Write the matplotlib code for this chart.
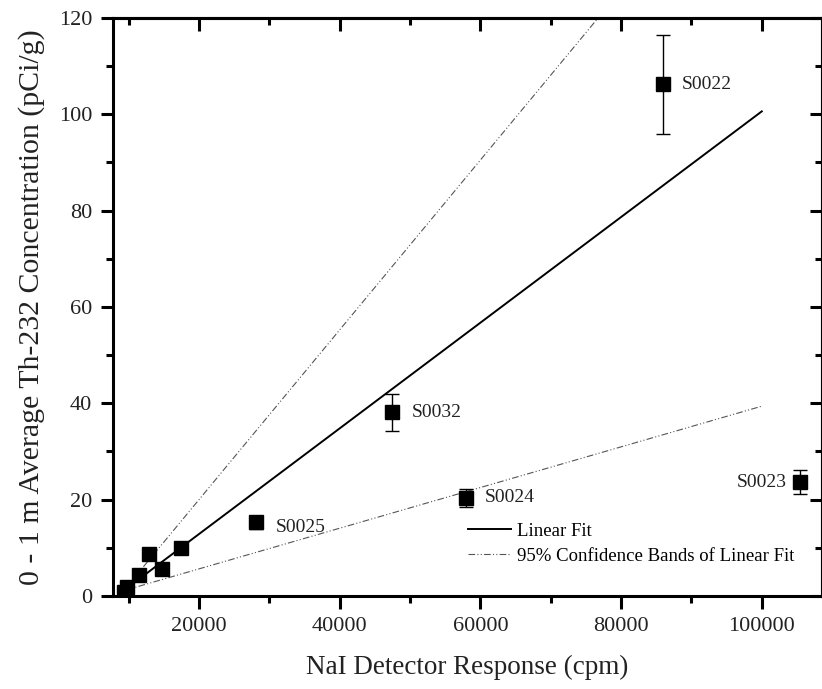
import matplotlib.pyplot as plt
from matplotlib.ticker import MultipleLocator

plt.rcParams['font.family'] = ['Liberation Serif', 'DejaVu Serif']

# measured samples
response = [9350, 9750, 11560, 12850, 14830, 17440, 28150, 47500, 57900, 85900, 105500]
th232 = [0.9, 1.9, 4.4, 8.8, 5.6, 9.9, 15.3, 38.1, 20.4, 106.2, 23.6]
th232_err = [0.3, 0.3, 0.4, 0.5, 0.4, 0.5, 1.3, 3.8, 1.9, 10.2, 2.5]

labels = ['S0025', 'S0032', 'S0024', 'S0022', 'S0023']
label_idx = [6, 7, 8, 9, 10]
label_offset = [(14, -4), (14, 0), (14, 0), (14, 0), (-46, 0)]

# fit lines (end points)
fit_x = [9300, 100000]
fit_y = [1.1, 100.6]
band_x = [9300, 100000]
band_upper = [1.1, 161.0]
band_lower = [1.1, 39.4]

fig = plt.figure(figsize=(8.22, 6.89), dpi=100)
ax = fig.add_axes([0.1375, 0.135, 0.862, 0.839])

ax.plot(fit_x, fit_y, color='black', lw=1.4, label='Linear Fit')
ax.plot(band_x, band_upper, color='#555555', lw=0.8, dashes=[6, 2, 1, 2, 1, 2],
        label='95% Confidence Bands of Linear Fit')
ax.plot(band_x, band_lower, color='#555555', lw=0.8, dashes=[6, 2, 1, 2, 1, 2])

ax.errorbar(response, th232, yerr=th232_err, fmt='s', color='black', ms=9.5,
            elinewidth=1, capsize=5, capthick=1, zorder=5)

for lab, i, off in zip(labels, label_idx, label_offset):
    ax.annotate(lab, (response[i], th232[i]), xytext=off, textcoords='offset points',
                va='center', ha='left', fontsize=14, color='#222222')

ax.set_xlim(7800, 108500)
ax.set_ylim(0, 120)
ax.xaxis.set_major_locator(MultipleLocator(20000))
ax.xaxis.set_minor_locator(MultipleLocator(10000))
ax.yaxis.set_major_locator(MultipleLocator(20))
ax.yaxis.set_minor_locator(MultipleLocator(10))

for s in ax.spines.values():
    s.set_linewidth(2.2)

ax.tick_params(which='both', direction='out', width=2.2, labelsize=16,
               labelcolor='#222222', pad=6)
ax.tick_params(which='major', length=9)
ax.tick_params(which='minor', length=5)

# mirrored ticks on top / right point into the frame
top = ax.secondary_xaxis('top')
top.xaxis.set_major_locator(MultipleLocator(20000))
top.xaxis.set_minor_locator(MultipleLocator(10000))
top.tick_params(which='both', direction='in', width=2.2, labeltop=False)
top.tick_params(which='major', length=9)
top.tick_params(which='minor', length=5)
top.spines['top'].set_linewidth(2.2)
right = ax.secondary_yaxis('right')
right.yaxis.set_major_locator(MultipleLocator(20))
right.yaxis.set_minor_locator(MultipleLocator(10))
right.tick_params(which='both', direction='in', width=2.2, labelright=False)
right.tick_params(which='major', length=9)
right.tick_params(which='minor', length=5)
right.spines['right'].set_linewidth(2.2)

ax.set_xlabel('NaI Detector Response (cpm)', fontsize=19.5, labelpad=14, color='#222222')
ax.set_ylabel('0 - 1 m Average Th-232 Concentration (pCi/g)', fontsize=21.5,
              labelpad=10, color='#222222')

ax.legend(loc='lower right', bbox_to_anchor=(0.985, 0.025), frameon=False, fontsize=13.5,
          handlelength=2.3, handletextpad=0.3, labelspacing=0.4)

plt.savefig('out.png', dpi=100)
